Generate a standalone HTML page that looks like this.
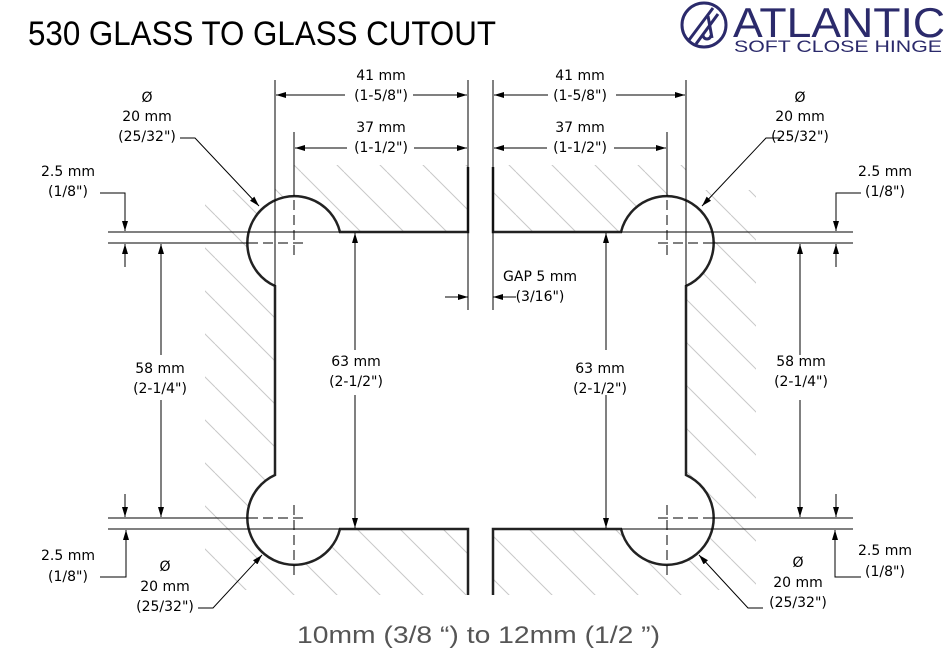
<!DOCTYPE html>
<html><head><meta charset="utf-8"><style>body{margin:0;background:#fff}svg{display:block}</style></head>
<body>
<svg width="949" height="665" viewBox="0 0 949 665" xmlns="http://www.w3.org/2000/svg" font-family="'Liberation Sans', 'DejaVu Sans', sans-serif">
<defs>
<pattern id="h" patternUnits="userSpaceOnUse" width="43" height="43">
<line x1="0" y1="0" x2="43" y2="43" stroke="#c8c8c8" stroke-width="1"/>
<line x1="-43" y1="0" x2="0" y2="43" stroke="#c8c8c8" stroke-width="1"/>
<line x1="43" y1="0" x2="86" y2="43" stroke="#c8c8c8" stroke-width="1"/>
</pattern>
<marker id="a" viewBox="0 0 10 6" refX="10" refY="3" markerWidth="10" markerHeight="6" orient="auto" markerUnits="userSpaceOnUse"><path d="M0,0 L10,3 L0,6 z" fill="#000"/></marker>
</defs>
<text x="28" y="45" font-size="34" textLength="468" lengthAdjust="spacingAndGlyphs" fill="#000">530 GLASS TO GLASS CUTOUT</text>
<g fill="none" stroke="#2b2a6b" stroke-width="3">
<circle cx="704" cy="25" r="22"/>
<line x1="689" y1="40" x2="713" y2="8"/><line x1="696" y1="44" x2="718" y2="14"/>
<path d="M708,16 L712,38 M703,35 a4,4 0 1 0 8,0"/>
</g>
<text x="733" y="37" font-size="42" fill="#2b2a6b" textLength="212" lengthAdjust="spacingAndGlyphs">ATLANTIC</text>
<text x="734" y="52" font-size="17" fill="#2b2a6b" textLength="208" lengthAdjust="spacingAndGlyphs">SOFT CLOSE HINGE</text>

<g fill="url(#h)">
<rect x="205" y="190" width="70" height="400"/><rect x="275" y="165" width="193" height="67"/><rect x="275" y="529" width="193" height="66"/>
<rect x="686" y="190" width="70" height="400"/><rect x="493" y="165" width="193" height="67"/><rect x="493" y="529" width="193" height="66"/>
</g>
<g fill="#fff"><circle cx="294" cy="243" r="47"/><circle cx="294" cy="518" r="47"/><circle cx="667" cy="243" r="47"/><circle cx="667" cy="518" r="47"/></g>

<g id="L">
<g fill="none" stroke="#222" stroke-width="2.5">
<path d="M468,167 L468,232 L340,232 A47,47 0 1 0 275,286 L275,475 A47,47 0 1 0 340,529 L468,529 L468,595"/>
</g>
<g fill="none" stroke="#000" stroke-width="1">
<line x1="275" y1="80" x2="275" y2="286"/>
<line x1="468" y1="80" x2="468" y2="310"/>
<line x1="294" y1="132" x2="294" y2="196"/>
<line x1="294" y1="200" x2="294" y2="256" stroke-dasharray="10,5"/>
<line x1="108" y1="232" x2="340" y2="232"/>
<line x1="108" y1="243" x2="248" y2="243"/>
<line x1="248" y1="243" x2="306" y2="243" stroke-dasharray="10,5"/>
<line x1="108" y1="529" x2="340" y2="529"/>
<line x1="108" y1="518" x2="248" y2="518"/>
<line x1="248" y1="518" x2="306" y2="518" stroke-dasharray="10,5"/>
<line x1="294" y1="505" x2="294" y2="577" stroke-dasharray="10,5"/>
<line x1="345" y1="95" x2="276" y2="95" marker-end="url(#a)"/>
<line x1="413" y1="95" x2="467" y2="95" marker-end="url(#a)"/>
<line x1="347" y1="148" x2="295" y2="148" marker-end="url(#a)"/>
<line x1="414" y1="148" x2="467" y2="148" marker-end="url(#a)"/>
<path d="M180,138 L195,138 L259,206" marker-end="url(#a)"/>
<path d="M100,193 L125,193 L125,231" marker-end="url(#a)"/>
<line x1="125" y1="267" x2="125" y2="244" marker-end="url(#a)"/>
<line x1="125" y1="494" x2="125" y2="517" marker-end="url(#a)"/>
<path d="M100,577 L126,577 L126,530" marker-end="url(#a)"/>
<path d="M198,608 L213,608 L262,555" marker-end="url(#a)"/>
<line x1="161" y1="355" x2="161" y2="244" marker-end="url(#a)"/>
<line x1="161" y1="400" x2="161" y2="517" marker-end="url(#a)"/>
<line x1="355" y1="350" x2="355" y2="233" marker-end="url(#a)"/>
<line x1="355" y1="395" x2="355" y2="528" marker-end="url(#a)"/>
<line x1="445" y1="297" x2="468" y2="297" marker-end="url(#a)"/>
</g>
</g>
<use href="#L" transform="translate(961,0) scale(-1,1)"/>

<g font-size="14" fill="#000" text-anchor="middle" font-family="'DejaVu Sans', sans-serif">
<text x="381" y="80">41 mm</text><text x="381" y="100">(1-5/8")</text>
<text x="381" y="132">37 mm</text><text x="381" y="152">(1-1/2")</text>
<text x="580" y="80">41 mm</text><text x="580" y="100">(1-5/8")</text>
<text x="580" y="132">37 mm</text><text x="580" y="152">(1-1/2")</text>
<text x="147" y="102">Ø</text><text x="147" y="121">20 mm</text><text x="147" y="141">(25/32")</text>
<text x="800" y="102">Ø</text><text x="800" y="121">20 mm</text><text x="800" y="141">(25/32")</text>
<text x="68" y="176">2.5 mm</text><text x="68" y="196">(1/8")</text>
<text x="885" y="176">2.5 mm</text><text x="885" y="196">(1/8")</text>
<text x="160" y="373">58 mm</text><text x="160" y="393">(2-1/4")</text>
<text x="801" y="366">58 mm</text><text x="801" y="386">(2-1/4")</text>
<text x="356" y="366">63 mm</text><text x="356" y="386">(2-1/2")</text>
<text x="600" y="373">63 mm</text><text x="600" y="393">(2-1/2")</text>
<text x="540" y="281">GAP 5 mm</text><text x="540" y="301">(3/16")</text>
<text x="68" y="560">2.5 mm</text><text x="68" y="581">(1/8")</text>
<text x="885" y="555">2.5 mm</text><text x="885" y="576">(1/8")</text>
<text x="165" y="571">Ø</text><text x="165" y="591">20 mm</text><text x="165" y="611">(25/32")</text>
<text x="798" y="567">Ø</text><text x="798" y="587">20 mm</text><text x="798" y="607">(25/32")</text>
</g>
<text x="297" y="643" font-size="24" fill="#555" textLength="363" lengthAdjust="spacingAndGlyphs">10mm (3/8 “) to 12mm (1/2 ”)</text>
</svg>
</body></html>
